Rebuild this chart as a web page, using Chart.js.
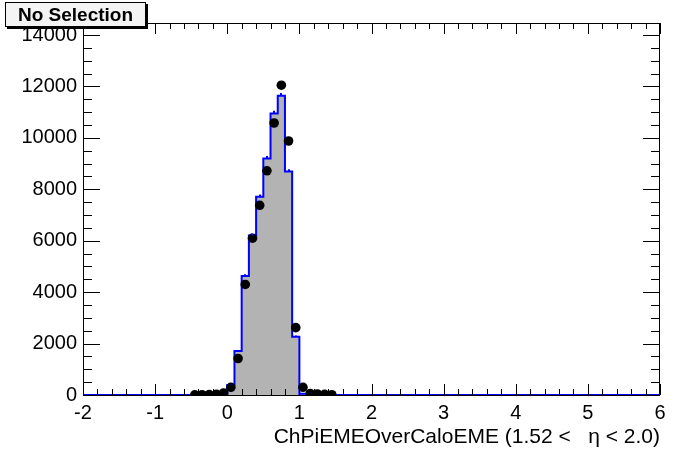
<!DOCTYPE html>
<html><head><meta charset="utf-8">
<script src="https://cdn.jsdelivr.net/npm/chart.js@4/dist/chart.umd.min.js"></script>
<style>
html,body{margin:0;padding:0;background:#fff;}
#wrap{position:relative;width:696px;height:472px;overflow:hidden;}
#c{position:absolute;left:0;top:0;}
#label{position:absolute;left:5px;top:2px;width:139px;height:23px;border:1px solid #000;background:#f4f4f4;box-shadow:2px 2px 0 #000;font:bold 19px "Liberation Sans",Arial,sans-serif;line-height:23px;text-align:center;color:#000;}
</style></head><body>
<div id="wrap"><canvas id="c" width="696" height="472"></canvas><div id="label">No Selection</div></div>
<script>
// ---- data ----
const binWidth = 0.1;
const histBinStart = -0.5;
const histValues = [0, 0, 0, 0, 40, 390, 1710, 4630, 6200, 7710, 9200, 10950, 11640, 8690, 2270, 50, 0, 0, 0, 0];
const pointCenters = [-0.45, -0.35, -0.25, -0.15, -0.05, 0.05, 0.15, 0.25, 0.35, 0.45, 0.55, 0.65, 0.75, 0.85, 0.95, 1.05, 1.15, 1.25, 1.35, 1.45];
const pointValues = [5, 10, 15, 30, 80, 300, 1420, 4300, 6100, 7380, 8720, 10580, 12050, 9880, 2620, 300, 60, 40, 25, 10];
const xTicks = [-2, -1, 0, 1, 2, 3, 4, 5, 6];
const yTicks = [0, 2000, 4000, 6000, 8000, 10000, 12000, 14000];
const xRange = [-2, 6];
const yRange = [0, 14470];
const xMinorStep = 0.2;
const yMinorStep = 500;
const xTitle = 'ChPiEMEOverCaloEME (1.52 <   \u03b7 < 2.0)';

// ---- build datasets ----
const stepData = [{x: xRange[0], y: 0}];
histValues.forEach((v, i) => stepData.push({x: +(histBinStart + i * binWidth).toFixed(3), y: v}));
stepData.push({x: +(histBinStart + histValues.length * binWidth).toFixed(3), y: 0});
stepData.push({x: xRange[1], y: 0});
const pointData = pointCenters.map((c, i) => ({x: c, y: pointValues[i]}));

const FONT = '"Liberation Sans", Arial, Helvetica, sans-serif';

const framePlugin = {
  id: 'rootFrame',
  beforeDatasetsDraw(chart) {
    const {ctx, chartArea: a} = chart;
    ctx.save();
    ctx.strokeStyle = '#000';
    ctx.lineWidth = 1;
    ctx.strokeRect(a.left + 0.5, a.top + 0.5, a.right - a.left - 1, a.bottom - a.top);
    ctx.restore();
  },
  afterDatasetsDraw(chart) {
    const {ctx, chartArea: a, scales} = chart;
    const xs = scales.x, ys = scales.y;
    ctx.save();
    // histogram error bars (upper part)
    ctx.strokeStyle = '#0000ff';
    ctx.lineWidth = 2;
    histValues.forEach((v, i) => {
      if (v <= 0) return;
      const cx = xs.getPixelForValue(histBinStart + (i + 0.5) * binWidth);
      ctx.beginPath();
      ctx.moveTo(Math.round(cx), ys.getPixelForValue(v));
      ctx.lineTo(Math.round(cx), ys.getPixelForValue(v + Math.sqrt(v)));
      ctx.stroke();
    });
    ctx.strokeStyle = '#000';
    ctx.lineWidth = 1;
    ctx.beginPath();
    const h = a.bottom - a.top, w = a.right - a.left;
    const xMaj = Math.round(h * 0.03), xMin = Math.round(h * 0.015);
    const yMaj = Math.round(w * 0.03), yMin = Math.round(w * 0.015);
    const nx = Math.round((xRange[1] - xRange[0]) / xMinorStep);
    for (let i = 0; i <= nx; i++) {
      const v = xRange[0] + i * xMinorStep;
      const isMaj = Math.abs(v - Math.round(v)) < 1e-6;
      const px = Math.round(xs.getPixelForValue(v)) + 0.5;
      const L = isMaj ? xMaj : xMin;
      ctx.moveTo(px, a.bottom); ctx.lineTo(px, a.bottom - L);
      ctx.moveTo(px, a.top); ctx.lineTo(px, a.top + L);
    }
    for (let v = yRange[0]; v <= yRange[1]; v += yMinorStep) {
      const isMaj = v % 2000 === 0;
      const py = Math.round(ys.getPixelForValue(v)) + 0.5;
      const L = isMaj ? yMaj : yMin;
      ctx.moveTo(a.left, py); ctx.lineTo(a.left + L, py);
      ctx.moveTo(a.right, py); ctx.lineTo(a.right - L, py);
    }
    ctx.stroke();
    ctx.restore();
  }
};

new Chart(document.getElementById('c'), {
  type: 'scatter',
  data: {
    datasets: [
      {
        type: 'scatter',
        data: pointData,
        pointRadius: 4.8,
        pointBackgroundColor: '#000',
        pointBorderWidth: 0,
        order: 1
      },
      {
        type: 'line',
        data: stepData,
        stepped: 'before',
        borderColor: '#0000ff',
        borderWidth: 2,
        backgroundColor: '#b3b3b3',
        fill: 'origin',
        pointRadius: 0,
        order: 2
      }
    ]
  },
  options: {
    responsive: false,
    animation: false,
    events: [],
    layout: {padding: {top: 23, right: 36, left: 0, bottom: 0}},
    plugins: {legend: {display: false}, tooltip: {enabled: false}},
    scales: {
      x: {
        type: 'linear', min: xRange[0], max: xRange[1],
        grid: {display: false, drawTicks: false},
        border: {display: false},
        afterBuildTicks: s => { s.ticks = xTicks.map(v => ({value: v})); },
        afterFit: s => { s.height = 77; },
        ticks: {color: '#000', font: {family: FONT, size: 20}, padding: 6, maxRotation: 0, autoSkip: false,
          callback: v => String(v)},
        title: {display: true, text: xTitle, align: 'end', color: '#000',
          font: {family: FONT, size: 21}, padding: {top: 0, bottom: 22}}
      },
      y: {
        type: 'linear', min: yRange[0], max: yRange[1],
        grid: {display: false, drawTicks: false},
        border: {display: false},
        afterBuildTicks: s => { s.ticks = yTicks.map(v => ({value: v})); },
        afterFit: s => { s.width = 83; },
        ticks: {color: '#000', font: {family: FONT, size: 20}, padding: 6, autoSkip: false,
          callback: v => String(v)}
      }
    }
  },
  plugins: [framePlugin]
});
</script>
</body></html>
